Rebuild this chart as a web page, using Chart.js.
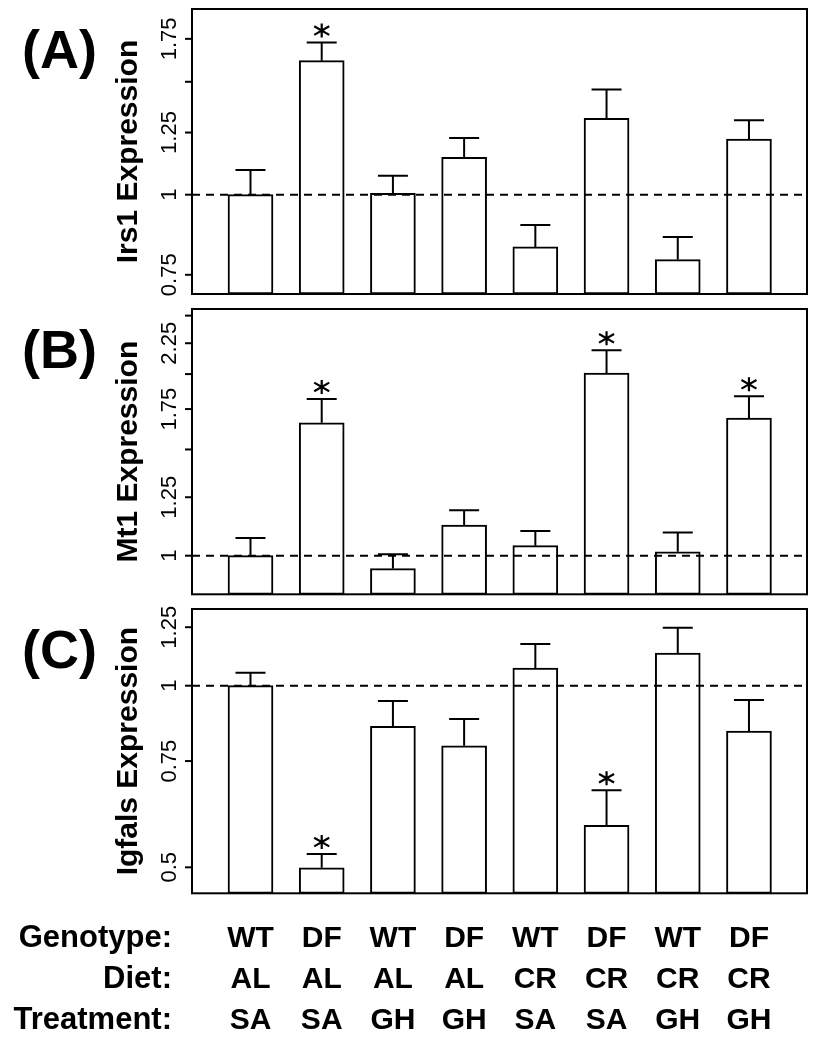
<!DOCTYPE html>
<html><head><meta charset="utf-8">
<script src="https://cdn.jsdelivr.net/npm/chart.js@4/dist/chart.umd.min.js"></script>
<style>
html,body{margin:0;padding:0;background:#fff;}
#wrap{position:relative;width:817px;height:1050px;background:#fff;}
canvas{position:absolute;left:0;}
</style></head><body>
<div id="wrap">
<canvas id="cA" width="817" height="300" style="top:0px"></canvas>
<canvas id="cB" width="817" height="300" style="top:300px"></canvas>
<canvas id="cC" width="817" height="450" style="top:600px"></canvas>
</div>
<script>
// ---- data ----
const groups = [0, 1, 2, 3, 4, 5, 6, 7];
const genotype = ['WT', 'DF', 'WT', 'DF', 'WT', 'DF', 'WT', 'DF'];
const diet = ['AL', 'AL', 'AL', 'AL', 'CR', 'CR', 'CR', 'CR'];
const treatment = ['SA', 'SA', 'GH', 'GH', 'SA', 'SA', 'GH', 'GH'];
const rowLabels = ['Genotype:', 'Diet:', 'Treatment:'];

const irs1Mean  = [1.00, 1.618, 1.005, 1.144, 0.829, 1.315, 0.792, 1.221];
const irs1Upper = [1.093, 1.727, 1.070, 1.226, 0.897, 1.459, 0.859, 1.306];
const irs1Sig   = [0, 1, 0, 0, 0, 0, 0, 0];
const irs1Ticks = [0.75, 1, 1.25, 1.5, 1.75];
const irs1TickLabels = ['0.75', '1', '1.25', '', '1.75'];

const mt1Mean  = [1.00, 1.661, 0.952, 1.124, 1.039, 2.008, 1.015, 1.691];
const mt1Upper = [1.070, 1.819, 1.006, 1.189, 1.099, 2.190, 1.093, 1.837];
const mt1Sig   = [0, 1, 0, 0, 0, 1, 0, 1];
const mt1Ticks = [1, 1.25, 1.5, 1.75, 2, 2.25, 2.5];
const mt1TickLabels = ['1', '1.25', '', '1.75', '', '2.25', ''];

const igfalsMean  = [1.00, 0.499, 0.856, 0.795, 1.070, 0.587, 1.133, 0.841];
const igfalsUpper = [1.051, 0.526, 0.943, 0.881, 1.173, 0.671, 1.248, 0.947];
const igfalsSig   = [0, 1, 0, 0, 0, 1, 0, 0];
const igfalsTicks = [0.5, 0.75, 1, 1.25];
const igfalsTickLabels = ['0.5', '0.75', '1', '1.25'];

const FONT = "'Liberation Sans', Arial, Helvetica, sans-serif";
const INK = '#000';

function makePanel(id, cfg) {
  const overlay = {
    id: 'overlay_' + id,
    afterDatasetsDraw(chart) {
      const ctx = chart.ctx;
      const a = chart.chartArea;
      const xs = chart.scales.x, ys = chart.scales.y;
      ctx.save();
      ctx.strokeStyle = INK; ctx.fillStyle = INK;
      // reference line at 1
      ctx.lineWidth = 2;
      ctx.setLineDash([8, 6]);
      const y1 = ys.getPixelForValue(1);
      ctx.beginPath(); ctx.moveTo(a.left, y1); ctx.lineTo(a.right, y1); ctx.stroke();
      ctx.setLineDash([]);
      // error bars + asterisks
      cfg.mean.forEach((m, i) => {
        const x = xs.getPixelForValue(groups[i]);
        const yt = ys.getPixelForValue(m);
        const yu = ys.getPixelForValue(cfg.upper[i]);
        ctx.lineWidth = 2;
        ctx.beginPath();
        ctx.moveTo(x, yt); ctx.lineTo(x, yu);
        ctx.moveTo(x - 15, yu); ctx.lineTo(x + 15, yu);
        ctx.stroke();
        if (cfg.sig[i]) {
          const cy = yu - 12;
          ctx.lineWidth = 2.2;
          ctx.beginPath();
          ctx.moveTo(x, cy - 7); ctx.lineTo(x, cy + 7);
          const dx = 7.5, dy = 4.3;
          ctx.moveTo(x - dx, cy - dy); ctx.lineTo(x + dx, cy + dy);
          ctx.moveTo(x - dx, cy + dy); ctx.lineTo(x + dx, cy - dy);
          ctx.stroke();
        }
      });
      // frame
      ctx.lineWidth = 2;
      ctx.strokeRect(a.left, a.top, a.right - a.left, a.bottom - a.top);
      // y ticks and labels
      ctx.lineWidth = 2;
      ctx.font = '22px ' + FONT;
      ctx.textAlign = 'center';
      ctx.textBaseline = 'alphabetic';
      cfg.ticks.forEach((t, i) => {
        const y = ys.getPixelForValue(t);
        ctx.beginPath(); ctx.moveTo(a.left - 7, y); ctx.lineTo(a.left, y); ctx.stroke();
        if (cfg.tickLabels[i]) {
          ctx.save();
          ctx.translate(a.left - 16, y);
          ctx.rotate(-Math.PI / 2);
          ctx.fillText(cfg.tickLabels[i], 0, 0);
          ctx.restore();
        }
      });
      // axis title
      ctx.save();
      ctx.font = 'bold 30px ' + FONT;
      ctx.translate(137, (a.top + a.bottom) / 2);
      ctx.rotate(-Math.PI / 2);
      ctx.fillText(cfg.title, 0, 0);
      ctx.restore();
      // panel letter
      ctx.font = 'bold 54px ' + FONT;
      ctx.textAlign = 'left';
      ctx.fillText(cfg.letter, 22, 68);
      // bottom factor table
      if (cfg.table) {
        const rows = [genotype, diet, treatment];
        const base = [a.bottom + 54, a.bottom + 95, a.bottom + 136];
        rows.forEach((row, r) => {
          ctx.font = 'bold 31px ' + FONT;
          ctx.textAlign = 'right';
          ctx.fillText(rowLabels[r], 172, base[r]);
          ctx.font = 'bold 30px ' + FONT;
          ctx.textAlign = 'center';
          row.forEach((lab, i) => {
            ctx.fillText(lab, xs.getPixelForValue(groups[i]), base[r]);
          });
        });
      }
      ctx.restore();
    }
  };
  return new Chart(document.getElementById(id), {
    type: 'bar',
    data: {
      datasets: [{
        data: cfg.mean.map((v, i) => ({ x: groups[i], y: v })),
        backgroundColor: '#fff',
        borderColor: INK,
        borderWidth: 2,
        borderSkipped: false,
        barThickness: 45
      }]
    },
    options: {
      responsive: false,
      animation: false,
      devicePixelRatio: 1,
      layout: { padding: { left: 192, right: 10, top: 9, bottom: cfg.padBottom } },
      plugins: { legend: { display: false }, tooltip: { enabled: false } },
      scales: {
        x: { type: 'linear', offset: false, min: -0.8215, max: 7.815, display: false },
        y: { type: 'logarithmic', min: cfg.yMin, max: cfg.yMax, display: false }
      }
    },
    plugins: [overlay]
  });
}

makePanel('cA', { mean: irs1Mean, upper: irs1Upper, sig: irs1Sig, ticks: irs1Ticks, tickLabels: irs1TickLabels,
  yMin: 0.704, yMax: 1.948, title: 'Irs1 Expression', letter: '(A)', padBottom: 6 });
makePanel('cB', { mean: mt1Mean, upper: mt1Upper, sig: mt1Sig, ticks: mt1Ticks, tickLabels: mt1TickLabels,
  yMin: 0.863, yMax: 2.564, title: 'Mt1 Expression', letter: '(B)', padBottom: 5.7 });
makePanel('cC', { mean: igfalsMean, upper: igfalsUpper, sig: igfalsSig, ticks: igfalsTicks, tickLabels: igfalsTickLabels,
  yMin: 0.4528, yMax: 1.340, title: 'Igfals Expression', letter: '(C)', padBottom: 156.7, table: true });
</script>
</body></html>
